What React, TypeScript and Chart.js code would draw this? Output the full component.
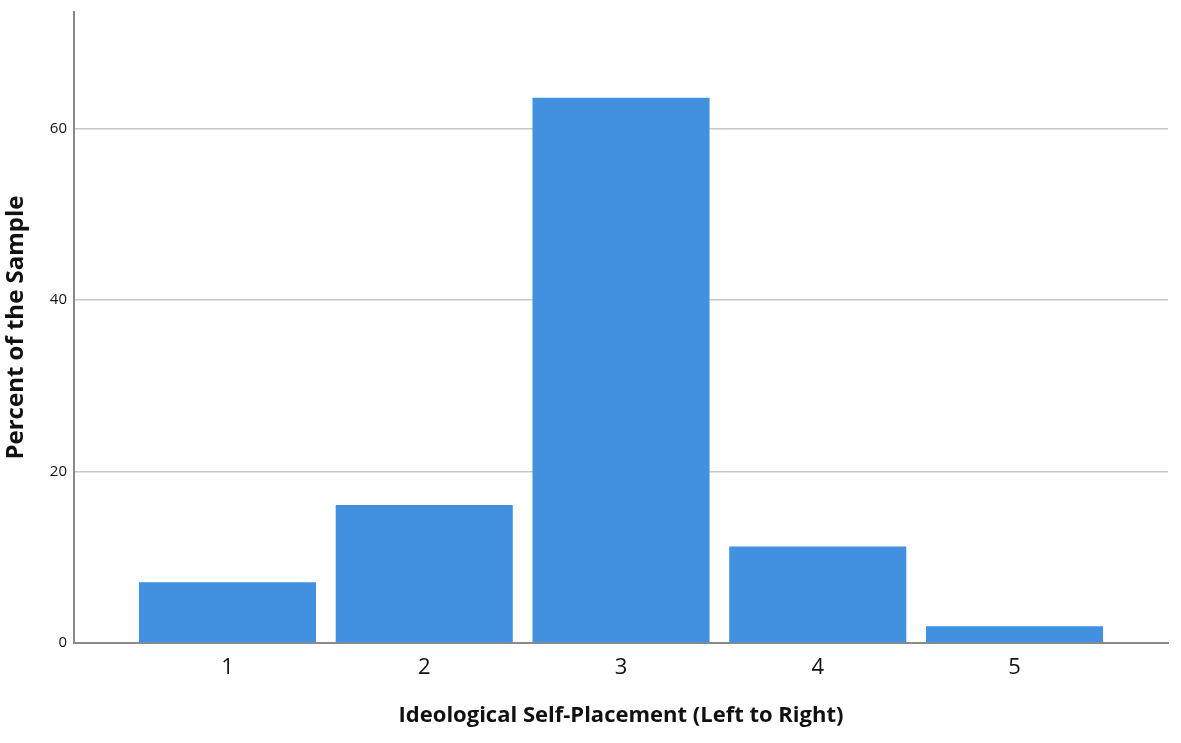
import { useEffect, useRef } from 'react';
import Chart from 'chart.js/auto';

// ideological self-placement, percent of sample per category
const categories = [1, 2, 3, 4, 5];
const percents = [7.1, 16.1, 63.6, 11.25, 1.94];
const yTicks = [0, 20, 40, 60];

const FONT = "'Open Sans', 'DejaVu Sans', sans-serif";

export default function App() {
  const canvasRef = useRef<HTMLCanvasElement>(null);

  useEffect(() => {
    if (!canvasRef.current) return;
    const chart = new Chart(canvasRef.current, {
      type: 'bar',
      data: {
        datasets: [
          {
            label: 'Percent',
            data: categories.map((c, i) => ({ x: c, y: percents[i] })),
            backgroundColor: '#4191e0',
            borderWidth: 0,
            barPercentage: 0.9,
            categoryPercentage: 1,
          },
        ],
      },
      options: {
        animation: false,
        responsive: true,
        maintainAspectRatio: false,
        layout: { padding: { left: 0, right: 13, top: 6, bottom: 4 } },
        plugins: {
          legend: { display: false },
          tooltip: { enabled: false },
        },
        scales: {
          x: {
            type: 'linear',
            min: 0.22,
            max: 5.78,
            offset: false,
            grid: { display: false, drawTicks: false },
            border: { color: '#8a8a8a', width: 2 },
            ticks: {
              stepSize: 1,
              includeBounds: false,
              padding: 12,
              color: '#111',
              font: { family: FONT, size: 22 },
            },
            afterBuildTicks: (scale) => {
              scale.ticks = categories.map((c) => ({ value: c }));
            },
            afterFit: (scale) => {
              scale.height = 100;
            },
            title: {
              display: true,
              text: 'Ideological Self-Placement (Left to Right)',
              color: '#111',
              font: { family: FONT, size: 22, weight: 'bold' },
              padding: { top: 0, bottom: 14 },
            },
          },
          y: {
            min: 0,
            max: 73.6,
            grid: { color: '#c8c8c8', lineWidth: 1.5, drawTicks: false },
            border: { color: '#8a8a8a', width: 2 },
            ticks: {
              stepSize: 20,
              includeBounds: false,
              padding: 7,
              color: '#111',
              font: { family: FONT, size: 15 },
            },
            afterBuildTicks: (scale) => {
              scale.ticks = yTicks.map((v) => ({ value: v }));
            },
            afterFit: (scale) => {
              scale.width = 74;
            },
            title: {
              display: true,
              text: 'Percent of the Sample',
              color: '#111',
              font: { family: FONT, size: 24, weight: 'bold' },
              padding: { top: 2, bottom: 0 },
            },
          },
        },
      },
    });

    return () => chart.destroy();
  }, []);

  // shifted up a little so the plot top lines up with the picture
  return (
    <div
      style={{
        position: 'absolute',
        left: 0,
        top: -4,
        width: 1181,
        height: 751,
        background: '#fff',
      }}
    >
      <canvas ref={canvasRef} />
    </div>
  );
}
